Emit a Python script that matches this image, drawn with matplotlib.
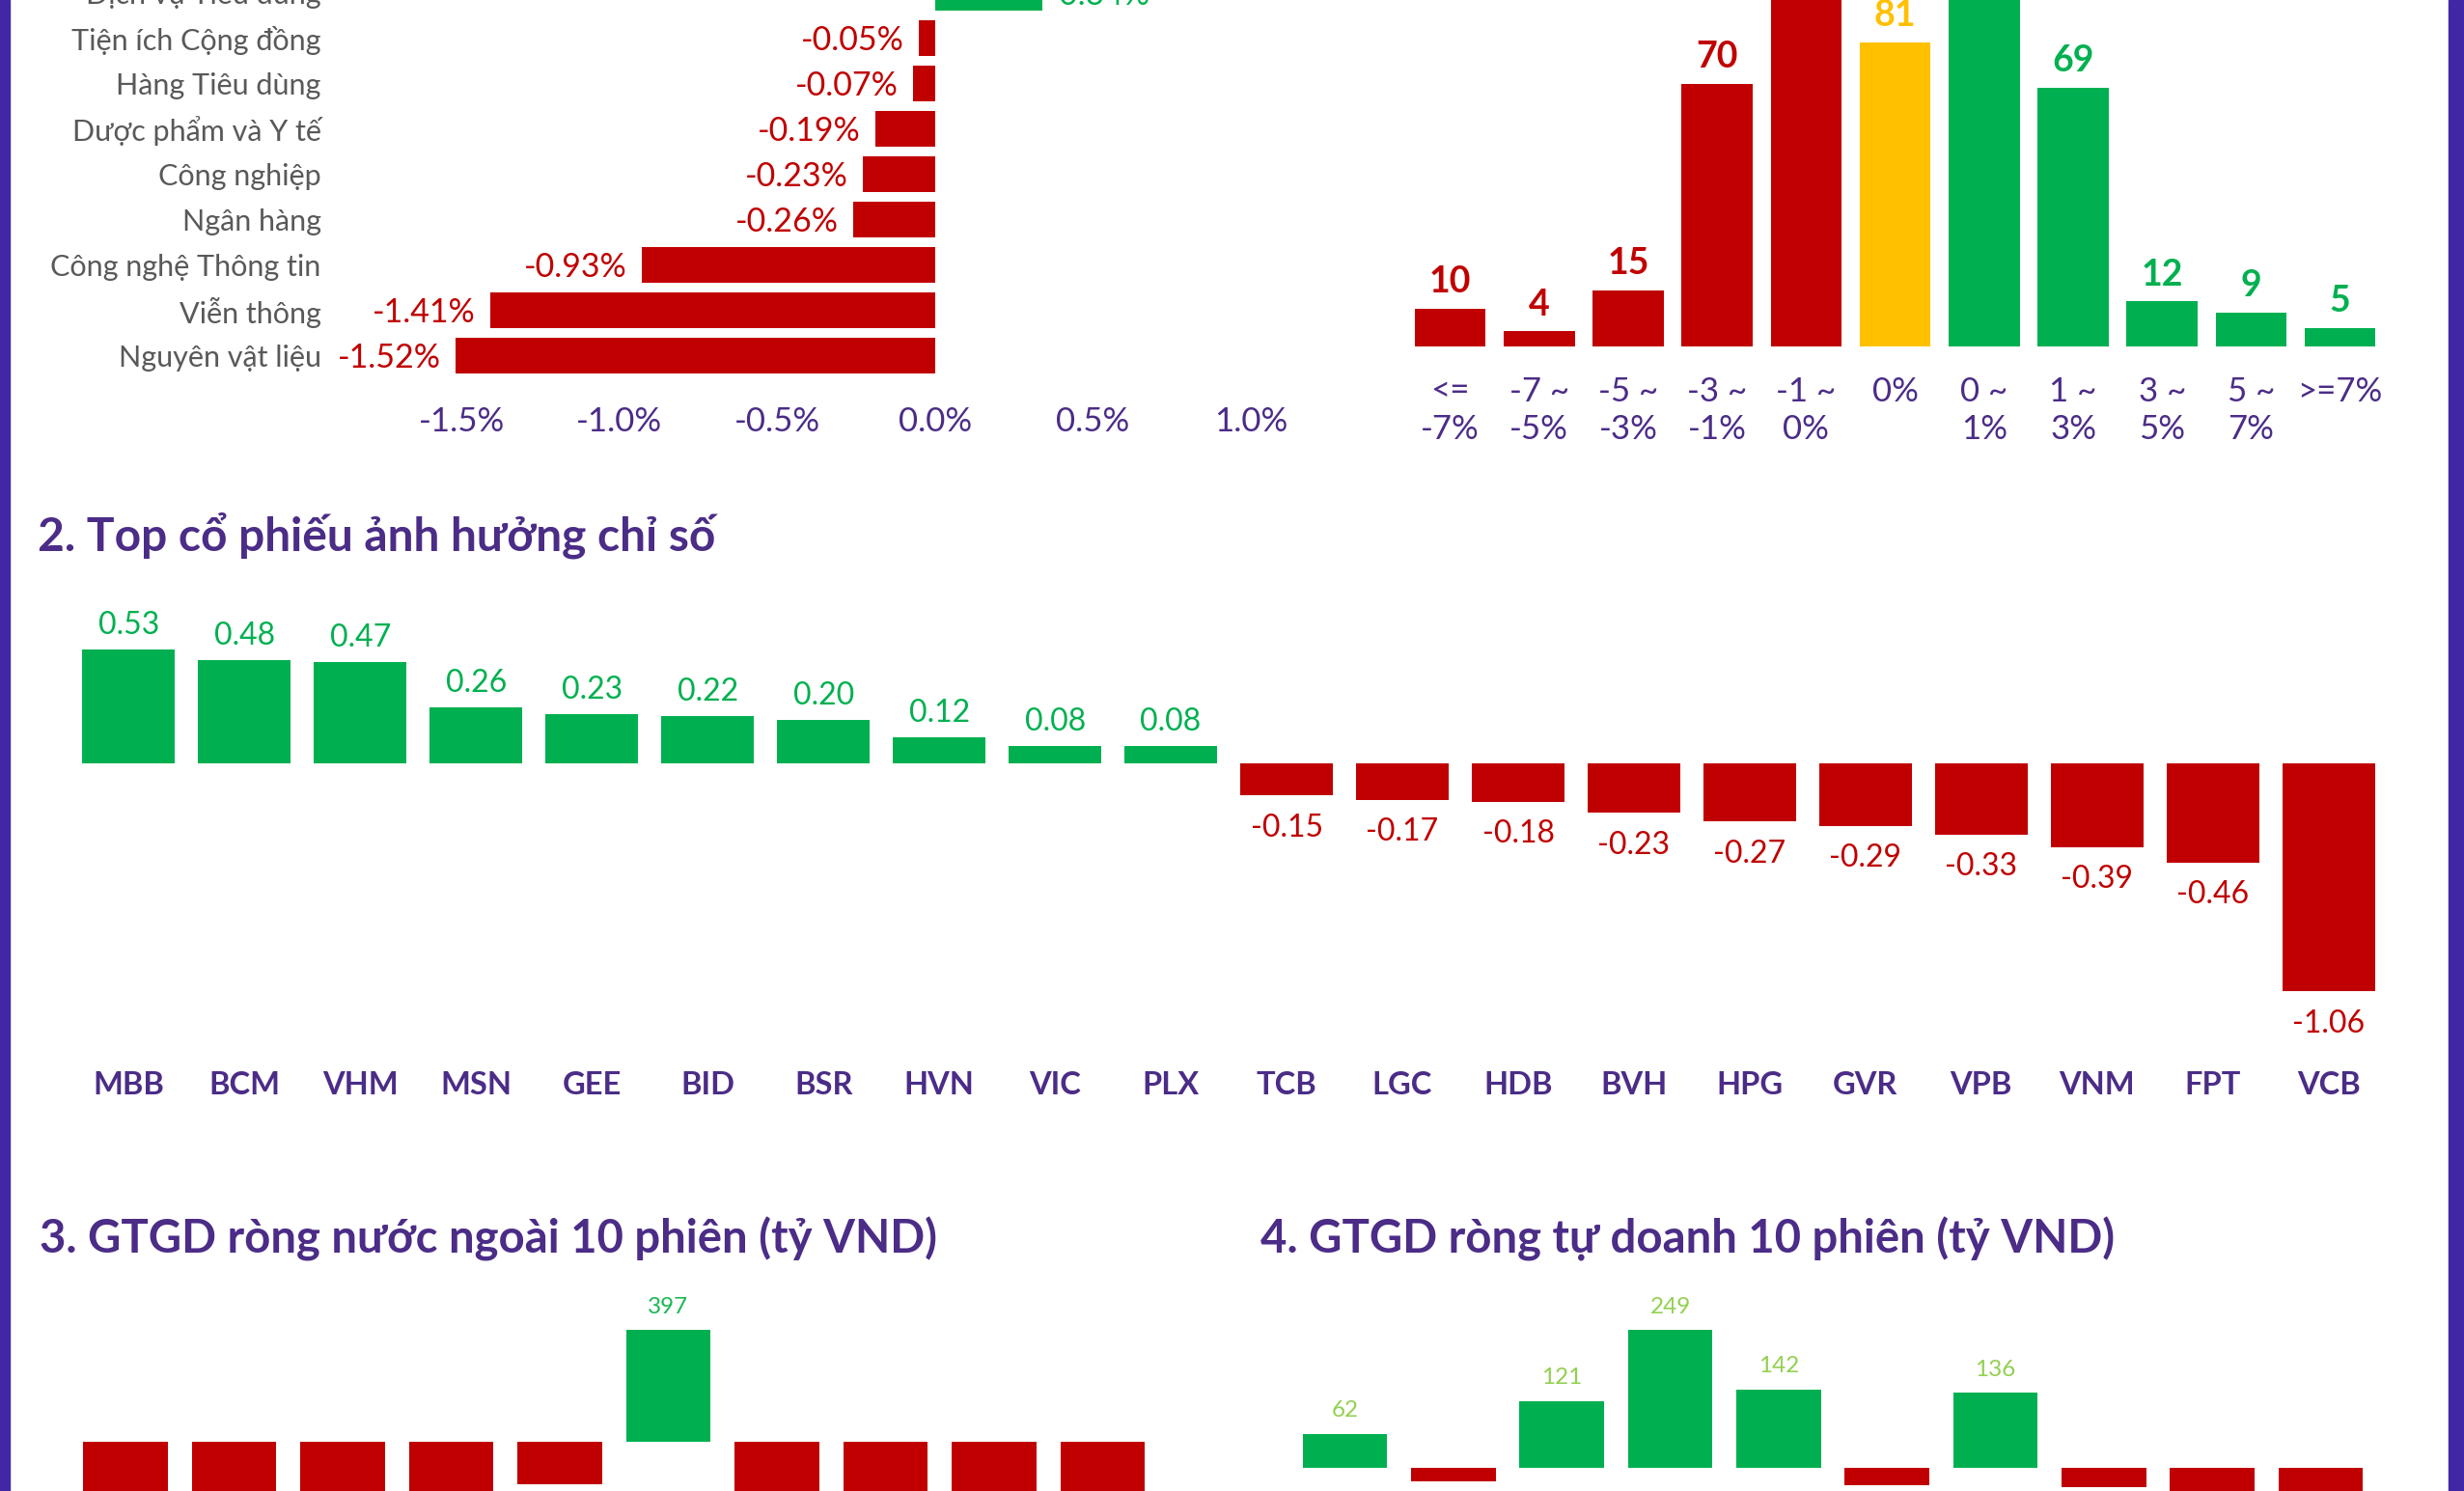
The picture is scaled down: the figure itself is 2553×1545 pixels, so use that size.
import matplotlib.pyplot as plt
from matplotlib.patches import Rectangle

plt.rcParams['font.family'] = ['Lato', 'DejaVu Sans']

RED = '#C00000'
GREEN = '#00B050'
YELLOW = '#FFC000'
PURPLE = '#4B2C87'
BORDER = '#4226A6'
GREY = '#595959'

# 1a. nganh
sectors = ['Dịch vụ Tiêu dùng', 'Tiện ích Cộng đồng', 'Hàng Tiêu dùng', 'Dược phẩm và Y tế',
           'Công nghiệp', 'Ngân hàng', 'Công nghệ Thông tin', 'Viễn thông', 'Nguyên vật liệu']
sector_chg = [0.34, -0.05, -0.07, -0.19, -0.23, -0.26, -0.93, -1.41, -1.52]

# 1b. phan bo bien dong
bins = ['<=\n-7%', '-7 ~\n-5%', '-5 ~\n-3%', '-3 ~\n-1%', '-1 ~\n0%', '0%',
        '0 ~\n1%', '1 ~\n3%', '3 ~\n5%', '5 ~\n7%', '>=7%']
bin_counts = [10, 4, 15, 70, 112, 81, 118, 69, 12, 9, 5]
bin_colors = [RED] * 5 + [YELLOW] + [GREEN] * 5

# 2. top co phieu
tickers = ['MBB', 'BCM', 'VHM', 'MSN', 'GEE', 'BID', 'BSR', 'HVN', 'VIC', 'PLX',
           'TCB', 'LGC', 'HDB', 'BVH', 'HPG', 'GVR', 'VPB', 'VNM', 'FPT', 'VCB']
impact = [0.53, 0.48, 0.47, 0.26, 0.23, 0.22, 0.20, 0.12, 0.08, 0.08,
          -0.15, -0.17, -0.18, -0.23, -0.27, -0.29, -0.33, -0.39, -0.46, -1.06]

# 3. nuoc ngoai, 4. tu doanh (phan am bi cat khoi anh)
foreign = [-520, -430, -380, -470, -154, 397, -300, -410, -560, -340]
prop = [62, -24, 121, 249, 142, -30, 136, -34, -75, -90]

W, H = 2553, 1545
fig = plt.figure(figsize=(W / 100, H / 100), dpi=100)
fig.patch.set_facecolor('white')


def px_axes(left, top, width, height):
    ax = fig.add_axes([left / W, 1 - (top + height) / H, width / W, height / H])
    for s in ax.spines.values():
        s.set_visible(False)
    ax.tick_params(length=0)
    return ax


def color_of(v):
    return GREEN if v >= 0 else RED


# --- 1a: horizontal bars
ax1 = px_axes(396.5, -31, 964.7, 437.1)
ypos = list(range(len(sectors)))
ax1.barh(ypos, sector_chg, height=0.8, color=[color_of(v) for v in sector_chg])
ax1.set_ylim(8.8, -0.5)
ax1.set_xlim(-1.75, 1.2)
ax1.set_yticks(ypos)
ax1.set_yticklabels(sectors, fontsize=22, color=GREY)
ax1.tick_params(axis='y', pad=46)
xt = [-1.5, -1.0, -0.5, 0.0, 0.5, 1.0]
ax1.set_xticks(xt)
ax1.set_xticklabels([f'{v:.1f}%' for v in xt], fontsize=25, color=PURPLE)
ax1.tick_params(axis='x', pad=11)
for y, v in zip(ypos, sector_chg):
    ax1.annotate(f'{v:.2f}%', (v, y), xytext=(12 if v >= 0 else -11, -1.5),
                 textcoords='offset points', ha='left' if v >= 0 else 'right',
                 va='center', fontsize=24.5, color=color_of(v))

# --- 1b: distribution
ax2 = px_axes(1456.5, 359 - 130 * 3.89, 11 * 92.2, 130 * 3.89)
xb = list(range(len(bins)))
ax2.bar(xb, bin_counts, width=0.8, color=bin_colors)
ax2.set_xlim(-0.5, 10.5)
ax2.set_ylim(0, 130)
ax2.set_yticks([])
ax2.set_xticks(xb)
ax2.set_xticklabels(bins, fontsize=25, color=PURPLE, linespacing=1.27, va='top')
ax2.tick_params(axis='x', pad=22)
for x, v, c in zip(xb, bin_counts, bin_colors):
    ax2.annotate(str(v), (x, v), xytext=(0, 20), textcoords='offset points',
                 ha='center', va='center', fontsize=27, fontweight='bold', color=c)

# --- 2: top stocks
fig.text(39 / W, 1 - 555 / H, '2. Top cổ phiếu ảnh hưởng chỉ số', fontsize=34.5,
         fontweight='bold', color=PURPLE, va='center', ha='left')
ax3 = px_axes(73.5, 634.9, 20 * 119.96, 2.05 * 223)
xs = list(range(len(tickers)))
ax3.bar(xs, impact, width=0.8, color=[color_of(v) for v in impact])
ax3.set_xlim(-0.5, 19.5)
ax3.set_ylim(-1.35, 0.7)
ax3.set_yticks([])
ax3.set_xticks(xs)
ax3.set_xticklabels(tickers, fontsize=23.5, fontweight='bold', color=PURPLE)
ax3.tick_params(axis='x', pad=13)
for x, v in zip(xs, impact):
    ax3.annotate(f'{v:.2f}', (x, v), xytext=(0, 18 if v >= 0 else -24),
                 textcoords='offset points', ha='center', va='center',
                 fontsize=23, color=color_of(v))

# --- 3 & 4: 10 phien
fig.text(41 / W, 1 - 1284 / H, '3. GTGD ròng nước ngoài 10 phiên (tỷ VND)', fontsize=34,
         fontweight='bold', color=PURPLE, va='center', ha='left')
fig.text(1306 / W, 1 - 1284 / H, '4. GTGD ròng tự doanh 10 phiên (tỷ VND)', fontsize=34,
         fontweight='bold', color=PURPLE, va='center', ha='left')

ax4 = px_axes(73.75, 1318.7, 1125, 407.9)
xd = list(range(len(foreign)))
ax4.bar(xd, foreign, width=0.78, color=[color_of(v) for v in foreign])
ax4.set_xlim(-0.5, 9.5)
ax4.set_ylim(-800, 600)
ax4.set_xticks([])
ax4.set_yticks([])
for x, v in zip(xd, foreign):
    ax4.annotate(f'{v:,.0f}', (x, v), xytext=(0, 17 if v >= 0 else -19),
                 textcoords='offset points', ha='center', va='center',
                 fontsize=17.5, color='#1DB954' if v >= 0 else RED)

ax5 = px_axes(1337.5, 1348.5, 1123, 259.2)
ax5.bar(xd, prop, width=0.78, color=[color_of(v) for v in prop])
ax5.set_xlim(-0.5, 9.5)
ax5.set_ylim(-150, 300)
ax5.set_xticks([])
ax5.set_yticks([])
for x, v in zip(xd, prop):
    ax5.annotate(f'{v:,.0f}', (x, v), xytext=(0, 17 if v >= 0 else -19),
                 textcoords='offset points', ha='center', va='center',
                 fontsize=17.5, color='#92D050' if v >= 0 else RED)

# khung vien tim hai ben
fig.patches.append(Rectangle((0, 0), 10 / W, 1, transform=fig.transFigure,
                             color=BORDER, zorder=10))
fig.patches.append(Rectangle((2537 / W, 0), 16 / W, 1, transform=fig.transFigure,
                             color=BORDER, zorder=10))

fig.savefig('out.png', dpi=100, facecolor='white')
